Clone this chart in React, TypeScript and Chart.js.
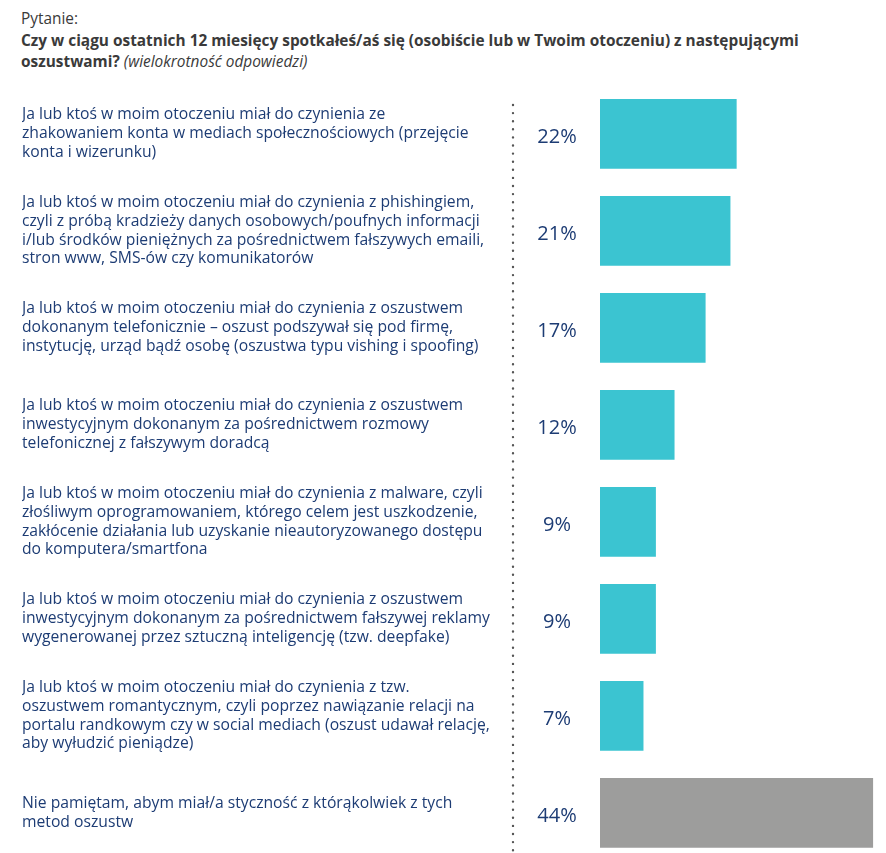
import React, { useEffect, useRef } from 'react';
import { Chart, registerables } from 'chart.js';

Chart.register(...registerables);

const categories: string[][] = [
  ['Ja lub ktoś w moim otoczeniu miał do czynienia ze', 'zhakowaniem konta w mediach społecznościowych (przejęcie', 'konta i wizerunku)'],
  ['Ja lub ktoś w moim otoczeniu miał do czynienia z phishingiem,', 'czyli z próbą kradzieży danych osobowych/poufnych informacji', 'i/lub środków pieniężnych za pośrednictwem fałszywych emaili,', 'stron www, SMS-ów czy komunikatorów'],
  ['Ja lub ktoś w moim otoczeniu miał do czynienia z oszustwem', 'dokonanym telefonicznie – oszust podszywał się pod firmę,', 'instytucję, urząd bądź osobę (oszustwa typu vishing i spoofing)'],
  ['Ja lub ktoś w moim otoczeniu miał do czynienia z oszustwem', 'inwestycyjnym dokonanym za pośrednictwem rozmowy', 'telefonicznej z fałszywym doradcą'],
  ['Ja lub ktoś w moim otoczeniu miał do czynienia z malware, czyli', 'złośliwym oprogramowaniem, którego celem jest uszkodzenie,', 'zakłócenie działania lub uzyskanie nieautoryzowanego dostępu', 'do komputera/smartfona'],
  ['Ja lub ktoś w moim otoczeniu miał do czynienia z oszustwem', 'inwestycyjnym dokonanym za pośrednictwem fałszywej reklamy', 'wygenerowanej przez sztuczną inteligencję (tzw. deepfake)'],
  ['Ja lub ktoś w moim otoczeniu miał do czynienia z tzw.', 'oszustwem romantycznym, czyli poprzez nawiązanie relacji na', 'portalu randkowym czy w social mediach (oszust udawał relację,', 'aby wyłudzić pieniądze)'],
  ['Nie pamiętam, abym miał/a styczność z którąkolwiek z tych', 'metod oszustw'],
];

const values: number[] = [22, 21, 17, 12, 9, 9, 7, 44];
const valueLabels: string[] = ['22%', '21%', '17%', '12%', '9%', '9%', '7%', '44%'];

const titleLabel = 'Pytanie:';
const questionBold = 'Czy w ciągu ostatnich 12 miesięcy spotkałeś/aś się (osobiście lub w Twoim otoczeniu) z następującymi oszustwami?';
const questionNote = '(wielokrotność odpowiedzi)';

const FONT = '"Open Sans", "Noto Sans", sans-serif';
const TEAL = '#3bc4d1';
const GRAY = '#9d9d9c';
const NAVY = '#1d3c74';

export default function App() {
  const canvasRef = useRef<HTMLCanvasElement | null>(null);

  useEffect(() => {
    document.body.style.margin = '0';
    document.body.style.overflow = 'hidden';
    const canvas = canvasRef.current;
    if (!canvas) return;

    const valueLabelPlugin = {
      id: 'valueLabels',
      afterDatasetsDraw(chart: any) {
        const ctx = chart.ctx;
        const meta = chart.getDatasetMeta(0);
        ctx.save();
        ctx.fillStyle = NAVY;
        ctx.font = `20px ${FONT}`;
        ctx.textAlign = 'center';
        ctx.textBaseline = 'middle';
        meta.data.forEach((bar: any, i: number) => {
          ctx.fillText(valueLabels[i], 557, bar.y + 3);
        });
        ctx.restore();
      },
    };

    const dottedLinePlugin = {
      id: 'dottedLine',
      beforeDatasetsDraw(chart: any) {
        const ctx = chart.ctx;
        ctx.save();
        ctx.strokeStyle = '#555555';
        ctx.lineWidth = 2.4;
        ctx.lineCap = 'round';
        ctx.setLineDash([0, 8.1]);
        ctx.beginPath();
        ctx.moveTo(513, 105);
        ctx.lineTo(513, 880);
        ctx.stroke();
        ctx.restore();
      },
    };

    const chart = new Chart(canvas, {
      type: 'bar',
      data: {
        labels: categories,
        datasets: [
          {
            data: values,
            backgroundColor: (c: any) => (c.dataIndex === values.length - 1 ? GRAY : TEAL),
            borderWidth: 0,
            barPercentage: 0.72,
            categoryPercentage: 1,
          },
        ],
      },
      options: {
        indexAxis: 'y',
        responsive: false,
        animation: false,
        layout: { padding: { left: 22, right: 12.7, top: 85.3, bottom: 38.7 } },
        plugins: {
          legend: { display: false },
          tooltip: { enabled: false },
        },
        scales: {
          x: { display: false, min: 0, max: 44 },
          y: {
            grid: { display: false },
            border: { display: false },
            afterFit: (scale: any) => {
              scale.width = 578;
            },
            ticks: {
              crossAlign: 'far',
              color: NAVY,
              padding: 0,
              font: { family: FONT, size: 15.7, lineHeight: '18.8px' },
            },
          },
        },
      },
      plugins: [dottedLinePlugin, valueLabelPlugin],
    } as any);

    return () => chart.destroy();
  }, []);

  return (
    <div style={{ position: 'relative', width: 886, height: 853, overflow: 'hidden', background: '#fff' }}>
      <div
        style={{
          position: 'absolute',
          left: 21,
          top: 8,
          width: 840,
          fontFamily: FONT,
          fontSize: 15.4,
          lineHeight: '21.7px',
          color: '#3a3a3a',
        }}
      >
        <div>{titleLabel}</div>
        <div>
          <span style={{ fontWeight: 700 }}>{questionBold}</span> <i>{questionNote}</i>
        </div>
      </div>
      <canvas ref={canvasRef} width={886} height={900} style={{ position: 'absolute', left: 0, top: 0 }} />
    </div>
  );
}
